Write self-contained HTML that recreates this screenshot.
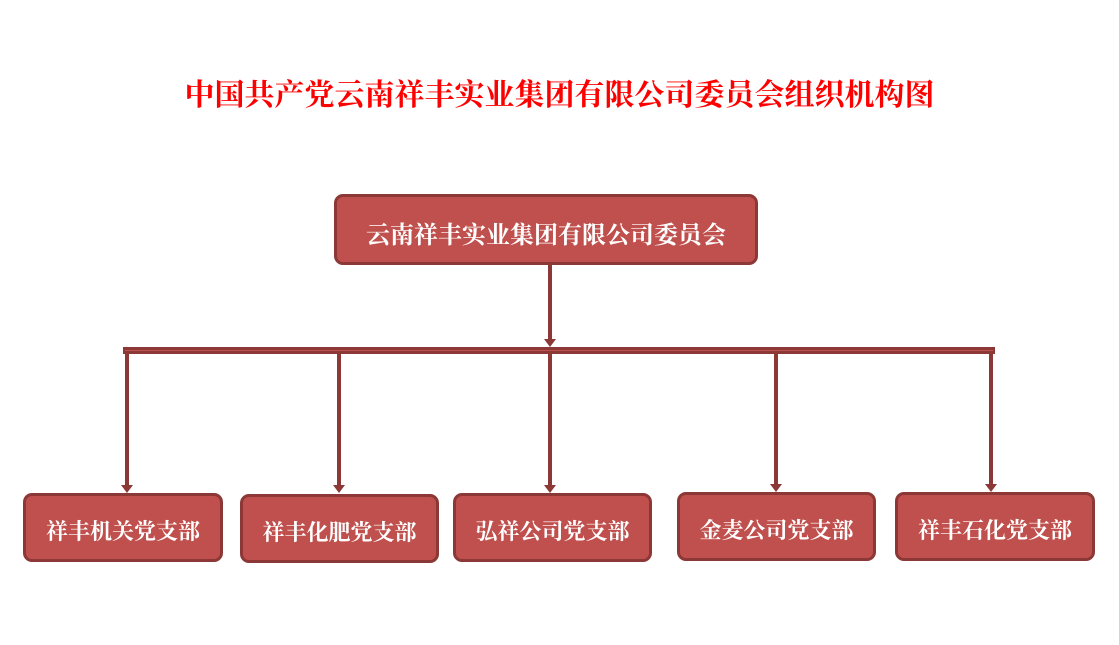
<!DOCTYPE html>
<html><head><meta charset="utf-8"><style>
body{margin:0;width:1119px;height:645px;background:#fff;position:relative;overflow:hidden;font-family:"Liberation Serif","Noto Serif CJK SC",serif}
.t{position:absolute;left:0;width:1119px;top:78px;text-align:center;color:#f00;font-weight:bold;font-size:30px;line-height:36px}
.b{position:absolute;background:#c0504d;border:3px solid #8c3836;border-radius:9px;box-sizing:border-box;color:#fff;font-weight:bold;display:flex;align-items:center;justify-content:center;font-size:22px;padding-top:6px}
.v{position:absolute;width:4px;background:#8c3836}
.a{position:absolute;width:0;height:0;border-left:6px solid transparent;border-right:6px solid transparent;border-top:8px solid #8c3836}
</style></head><body>
<div class="t">中国共产党云南祥丰实业集团有限公司委员会组织机构图</div>
<div class="b" style="left:334px;top:194px;width:424px;height:71px;font-size:24px">云南祥丰实业集团有限公司委员会</div>
<div class="v" style="left:548px;top:265px;height:76px"></div>
<div class="a" style="left:544px;top:339px"></div>
<div style="position:absolute;left:123px;top:347px;width:872px;height:7px;background:#8c3836"></div>
<div style="position:absolute;left:125px;top:350px;width:868px;height:1px;background:#c0504d"></div>
<div class="v" style="left:125px;top:352px;height:134px"></div><div class="a" style="left:121px;top:485px"></div>
<div class="v" style="left:337px;top:352px;height:134px"></div><div class="a" style="left:333px;top:485px"></div>
<div class="v" style="left:548px;top:352px;height:134px"></div><div class="a" style="left:544px;top:485px"></div>
<div class="v" style="left:774px;top:352px;height:133px"></div><div class="a" style="left:770px;top:484px"></div>
<div class="v" style="left:989px;top:352px;height:133px"></div><div class="a" style="left:985px;top:484px"></div>
<div class="b" style="left:23px;top:493px;width:200px;height:69px">祥丰机关党支部</div>
<div class="b" style="left:240px;top:494px;width:199px;height:69px">祥丰化肥党支部</div>
<div class="b" style="left:453px;top:493px;width:199px;height:69px">弘祥公司党支部</div>
<div class="b" style="left:677px;top:492px;width:199px;height:69px">金麦公司党支部</div>
<div class="b" style="left:895px;top:492px;width:200px;height:69px">祥丰石化党支部</div>
</body></html>
